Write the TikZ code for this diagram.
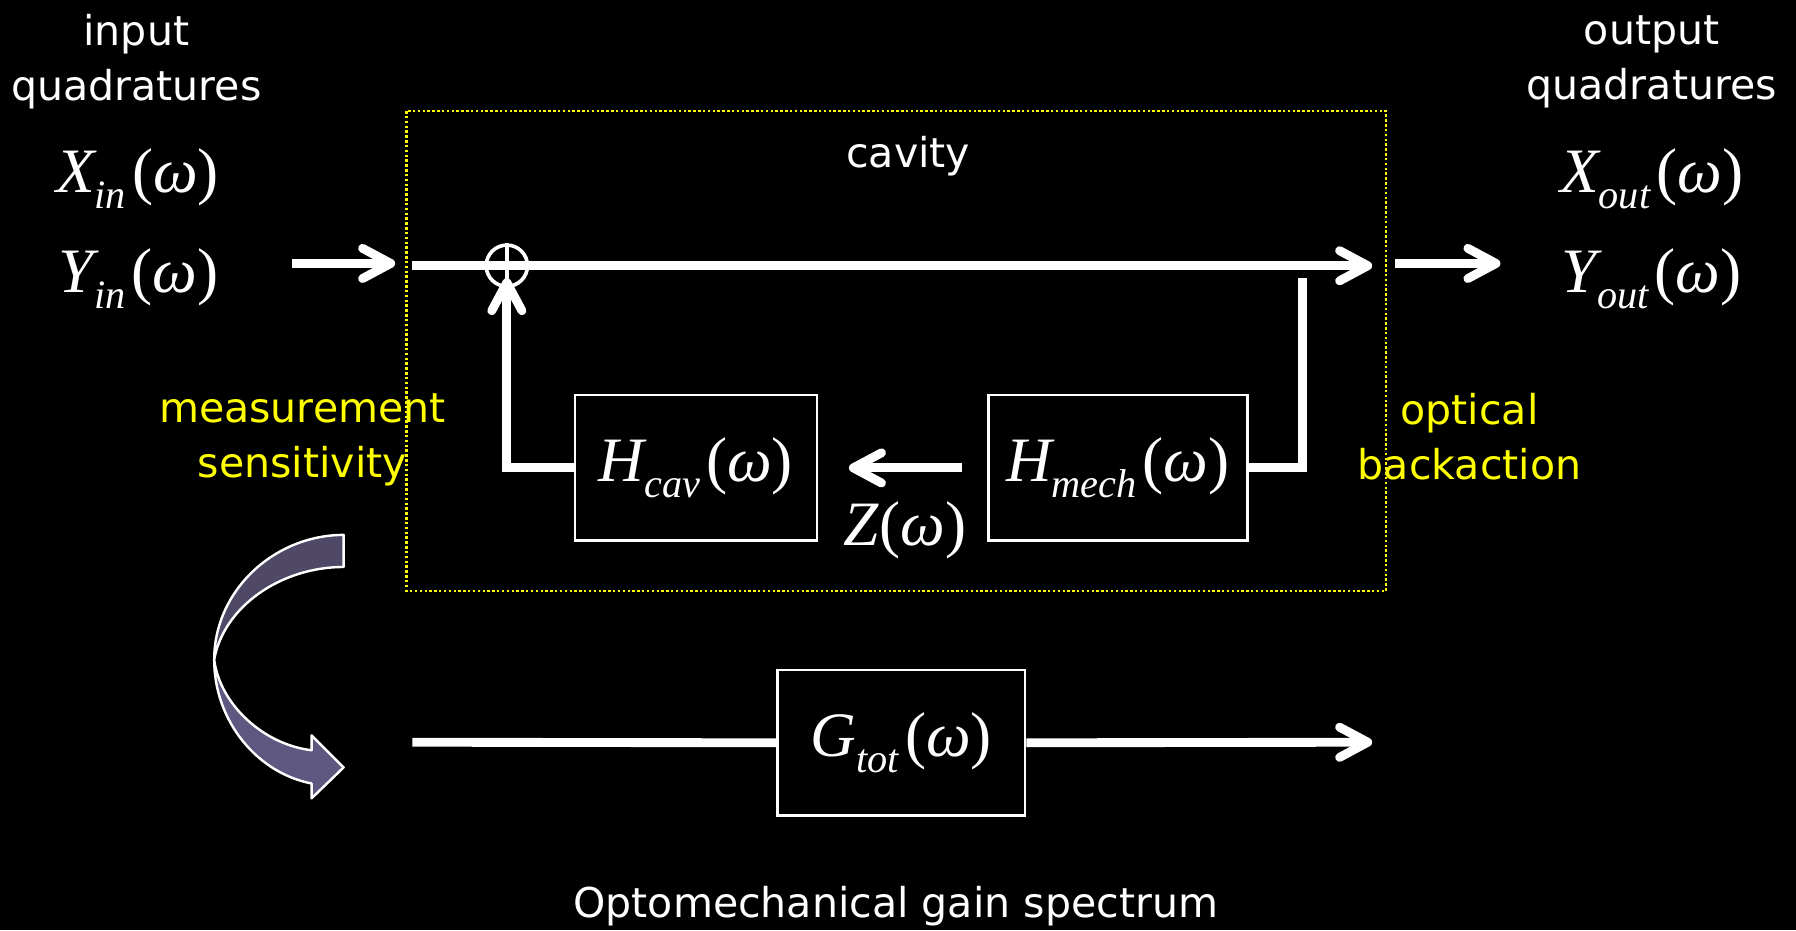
\documentclass[tikz,border=0pt]{standalone}
\usepackage{fontspec}
\setmainfont{DejaVu Sans}
\newfontfamily\tnr{Liberation Serif}
\usetikzlibrary{arrows.meta}
\definecolor{ylw}{RGB}{255,255,0}
\definecolor{bandA}{RGB}{79,73,103}
\definecolor{bandB}{RGB}{94,88,128}
\newcommand\qvar[2]{{\itshape #1}\raisebox{-4pt}{\fontsize{10pt}{10pt}\selectfont\itshape #2}\kern1.5pt(\textit{ω})}
\tikzset{
  lbl/.style={text=white, font=\fontsize{10.2pt}{13.6pt}\selectfont, align=center, inner sep=0pt},
  ylbl/.style={lbl, text=ylw},
  mth/.style={text=white, font=\tnr\fontsize{15.7pt}{18pt}\selectfont, inner sep=0pt},
  blk/.style={draw=white, line width=0.6pt, mth, minimum height=1.27cm},
  flow/.style={draw=white, line width=2.2pt},
  arr/.style={flow, -{Straight Barb[length=7pt,width=7.5pt,round]}},
  sumnode/.style={circle, draw=white, line width=0.9pt, minimum size=0.36cm, inner sep=0pt},
  cavbox/.style={draw=ylw, line width=0.6pt, dash pattern=on 0.6pt off 0.6pt},
  band/.style={draw=white, line width=0.6pt, line join=round},
}
\begin{document}
\begin{tikzpicture}[x=0.01cm, y=-0.01cm]
\fill[black] (0,0) rectangle (1568,812);
\useasboundingbox (0,0) rectangle (1568,812);

% cavity frame
\draw[cavbox] (355,97) rectangle (1210,516);
\node[lbl, anchor=base] (cav) at (793,146) {cavity};

% side labels
\node[lbl] (inlbl) at (119,54) {input\\quadratures};
\node[lbl] (outlbl) at (1442,54) {output\\quadratures};
\node[mth, anchor=base] (xin) at (120,168) {\qvar{X}{in}};
\node[mth, anchor=base] (yin) at (121,255) {\qvar{Y}{in}};
\node[mth, anchor=base] (xout) at (1442,168) {\qvar{X}{out}};
\node[mth, anchor=base] (yout) at (1442,255) {\qvar{Y}{out}};
\node[ylbl] (meas) at (264,384) {measurement\\sensitivity};
\node[ylbl] (back) at (1283,381) {optical\\backaction};

% blocks
\node[blk, minimum width=2.11cm] (Hcav) at (607.5,408.5) {\qvar{H}{cav}};
\node[blk, minimum width=2.26cm] (Hmech) at (976,408.5) {\qvar{H}{mech}};
\node[blk, minimum width=2.16cm] (Gtot) at (787,648.5) {\qvar{G}{tot}};
\node[mth, anchor=base] (z) at (790,476) {\textit{Z}(\textit{ω})};
\node[sumnode] (sum) at (442.5,232) {};
\draw[white, line width=0.9pt] (sum.north) -- (sum.south);

% coordinates for free ends
\coordinate (inA) at (255,230);
\coordinate (inB) at (345,230);
\coordinate (mainA) at (360,232);
\coordinate (mainB) at (1198,232);
\coordinate (outA) at (1218,230);
\coordinate (outB) at (1310,230);
\coordinate (bpTop) at (1137,243);
\coordinate (botA) at (360,648);
\coordinate (botB) at (1198,648);

% connectors
\draw[arr] (inA) -- (inB);
\draw[arr] (mainA) -- (mainB);
\draw[arr] (outA) -- (outB);
\draw[arr, shorten >=-2.5pt] (Hcav.west) -| (sum.south);
\draw[flow] (Hmech.east) -| (bpTop);
\draw[arr] ([xshift=-0.22cm]Hmech.west) -- ([xshift=0.27cm]Hcav.east);
\draw[flow] (botA) -- (Gtot.west);
\draw[arr] (Gtot.east) -- (botB);

% curved ribbon arrow
\filldraw[band, fill=bandA] (300,467) .. controls (240,467) and (187,515) .. (187,576)
   .. controls (195,530) and (245,495) .. (300,495) -- cycle;
\filldraw[band, fill=bandB] (187,576) .. controls (187,630) and (225,675) .. (272,684)
   -- (272,697) -- (300,670) -- (272,642) -- (272,655)
   .. controls (230,650) and (192,615) .. (187,576) -- cycle;

\node[lbl, anchor=base] (title) at (782,801) {Optomechanical gain spectrum};
\end{tikzpicture}
\end{document}
